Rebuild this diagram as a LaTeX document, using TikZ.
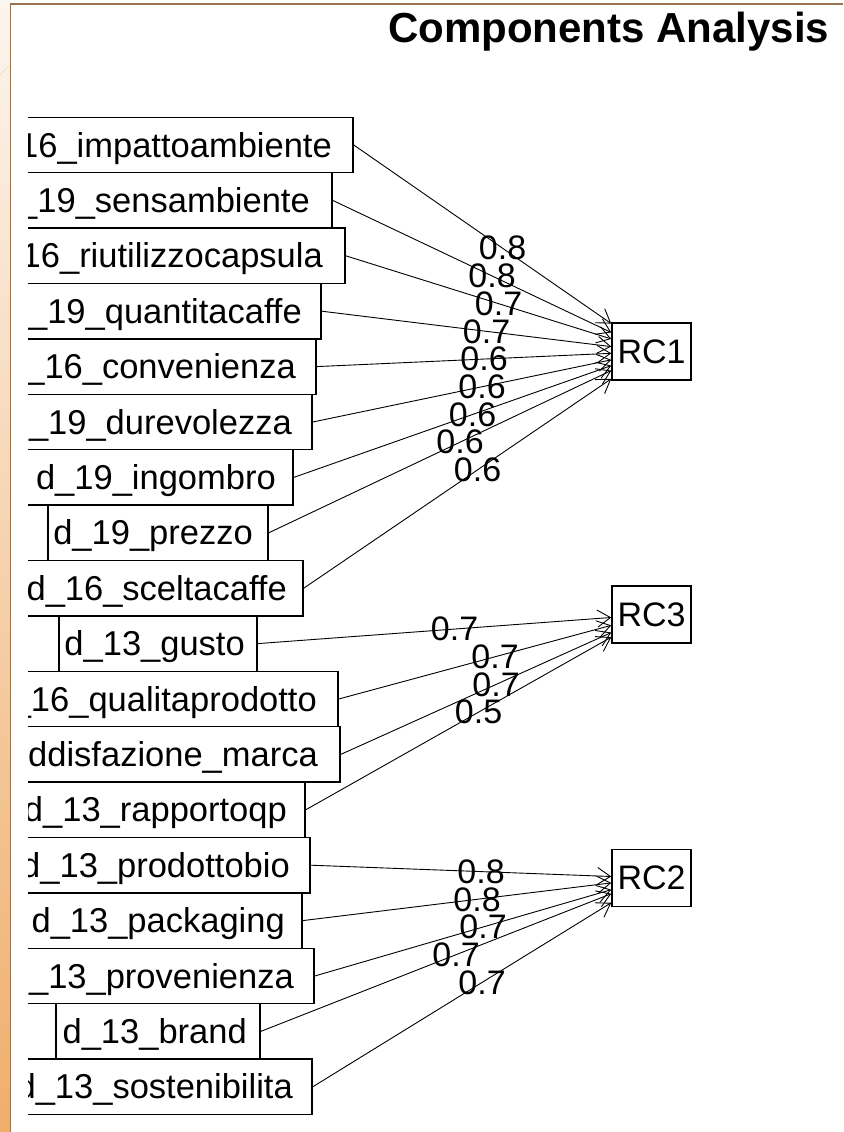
\documentclass[tikz,border=0pt]{standalone}
\usepackage{fontspec}
\setmainfont{Liberation Sans}
\usetikzlibrary{arrows.meta,calc}
\definecolor{framebrown}{HTML}{9A7450}
\definecolor{stripTop}{HTML}{FCF5EE}
\definecolor{stripBot}{HTML}{EFAE6C}
\begin{document}
\begin{tikzpicture}[x=1pt,y=-1pt,
  vbox/.style={draw, line width=1.5pt, minimum height=55.4pt, inner sep=0pt},
  vtext/.style={anchor=base east, inner sep=0pt, font=\fontsize{34.5}{40}\selectfont},
  fbox/.style={draw, line width=1.5pt, minimum width=79pt, minimum height=57pt, inner sep=0pt, font=\fontsize{34}{40}\selectfont},
  load/.style={-{Straight Barb[length=13pt,width=17pt]}, line width=0.9pt},
  lab/.style={inner sep=0pt, font=\fontsize{34}{40}\selectfont}]
\useasboundingbox (0,0) rectangle (843,1132);
\fill[white] (0,0) rectangle (843,1132);
\shade[top color=stripTop, bottom color=stripBot] (0,0) rectangle (10,1132);
\draw[stripBot!60, line width=0.6pt] (0,75) -- (9,66);
\draw[framebrown, line width=1.5pt] (843,4) -- (10.5,4) -- (10.5,1132);

\node[anchor=base west, inner sep=0pt, font=\fontsize{42}{50}\selectfont\bfseries] (title) at (388,43) {Components Analysis};

\begin{scope}
\clip (28,0) rectangle (843,1132);
\foreach \k/\R/\P/\T in {
  1/353/21/d\_16\_impattoambiente,
  2/332/22/d\_19\_sensambiente,
  3/345/22/d\_16\_riutilizzocapsula,
  4/321/19/d\_19\_quantitacaffe,
  5/316/20/d\_16\_convenienza,
  6/312/20/d\_19\_durevolezza,
  7/293/17/d\_19\_ingombro,
  8/268/15/d\_19\_prezzo,
  9/303/16/d\_16\_sceltacaffe,
  10/257/12/d\_13\_gusto,
  11/338/21/d\_16\_qualitaprodotto,
  12/340/22/soddisfazione\_marca,
  13/305/18/d\_13\_rapportoqp,
  14/310/20/d\_13\_prodottobio,
  15/302/17/d\_13\_packaging,
  16/314/20/d\_13\_provenienza,
  17/260/13/d\_13\_brand,
  18/312/19/d\_13\_sostenibilita}{
  \pgfmathsetmacro\cy{145+(\k-1)*55.4}
  \pgfmathsetmacro\tx{\R-\P}
  \pgfmathsetmacro\ty{\cy+12}
  \node[vbox, minimum width={2*(\R-158)}] (v\k) at (158,\cy) {};
  \node[vtext] (t\k) at (\tx,\ty) {\T};
}
\end{scope}

\node[fbox] (RC1) at (651.5,351.5) {RC1};
\node[fbox] (RC3) at (651.5,614.5) {RC3};
\node[fbox] (RC2) at (651.5,878) {RC2};

\foreach \k/\f/\v in {
  1/RC1/0.8, 2/RC1/0.8, 3/RC1/0.7, 4/RC1/0.7, 5/RC1/0.6, 6/RC1/0.6, 7/RC1/0.6, 8/RC1/0.6, 9/RC1/0.6,
  10/RC3/0.7, 11/RC3/0.7, 12/RC3/0.7, 13/RC3/0.5,
  14/RC2/0.8, 15/RC2/0.8, 16/RC2/0.7, 17/RC2/0.7, 18/RC2/0.7}{
  \draw[load] (v\k.east) -- (\f);
}
\foreach \k/\f/\v in {
  1/RC1/0.8, 2/RC1/0.8, 3/RC1/0.7, 4/RC1/0.7, 5/RC1/0.6, 6/RC1/0.6, 7/RC1/0.6, 8/RC1/0.6, 9/RC1/0.6,
  10/RC3/0.7, 11/RC3/0.7, 12/RC3/0.7, 13/RC3/0.5,
  14/RC2/0.8, 15/RC2/0.8, 16/RC2/0.7, 17/RC2/0.7, 18/RC2/0.7}{
  \node[lab] (l\k) at ($(v\k.east)!0.5!(\f.center)$) {\v};
}
\end{tikzpicture}
\end{document}
